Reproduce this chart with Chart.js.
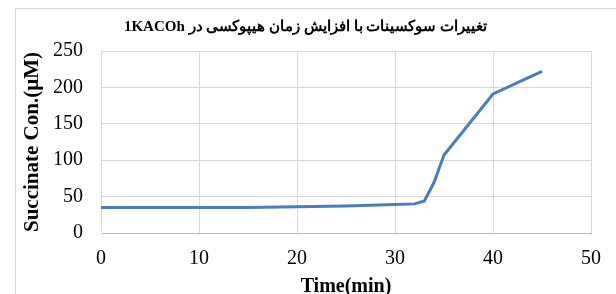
<!DOCTYPE html>
<html>
<head>
<meta charset="utf-8">
<script src="https://cdn.jsdelivr.net/npm/chart.js@4"></script>
<style>
    html, body { margin: 0; padding: 0; background: #fff; overflow: hidden; }
    #frame { position: absolute; left: 15px; top: 8px; width: 700px; height: 400px; border: 1px solid #d9d9d9; }
    #wrap { position: absolute; left: 0; top: 0; width: 616px; height: 294px; }
</style>
</head>
<body>
<div id="frame"></div>
<div id="wrap"><canvas id="succinateChart" width="616" height="294"></canvas></div>
<script>
// values
const timeMin = [0, 5, 10, 15, 20, 25, 30, 32, 33, 34, 35, 40, 45];
const succinate = [35, 35, 35, 35, 36, 37, 39, 40, 44, 70, 107, 191, 222];
const xTicks = [0, 10, 20, 30, 40, 50];
const yTicks = [0, 50, 100, 150, 200, 250];

const chartTitle = 'تغییرات سوکسینات با افزایش زمان هیپوکسی در 1KACOh';
const serif = '"Liberation Serif", "Times New Roman", serif';

function initializeChart() {
    const ctx = document.getElementById('succinateChart').getContext('2d');
    const points = timeMin.map((t, i) => ({ x: t, y: succinate[i] }));

    new Chart(ctx, {
        type: 'line',
        data: {
            datasets: [{
                data: points,
                borderColor: '#4a7ebb',
                borderWidth: 3,
                pointRadius: 0,
                fill: false,
                tension: 0
            }]
        },
        options: {
            responsive: false,
            animation: false,
            layout: { padding: { left: 20, right: 25, top: 0, bottom: 0 } },
            plugins: {
                legend: { display: false },
                tooltip: { enabled: false },
                title: {
                    display: true,
                    // embed right-to-left so the Latin part sits at the left end
                    text: '\u202B' + chartTitle + '\u202C',
                    color: '#000',
                    font: { family: serif, size: 15, weight: 'bold', lineHeight: 1.2 },
                    padding: { top: 18, bottom: 15 }
                }
            },
            scales: {
                x: {
                    type: 'linear',
                    min: 0,
                    max: 50,
                    afterBuildTicks: axis => { axis.ticks = xTicks.map(v => ({ value: v })); },
                    afterFit: axis => { axis.height = 61; },
                    grid: { color: '#d9d9d9', lineWidth: 1, drawTicks: false },
                    border: { color: '#bfbfbf' },
                    ticks: {
                        color: '#000',
                        padding: 14,
                        maxRotation: 0,
                        font: { family: serif, size: 20 }
                    },
                    title: {
                        display: true,
                        text: 'Time(min)',
                        color: '#000',
                        padding: { top: 0, bottom: 0 },
                        font: { family: serif, size: 20, weight: 'bold', lineHeight: 0.7 }
                    }
                },
                y: {
                    min: 0,
                    max: 250,
                    afterBuildTicks: axis => { axis.ticks = yTicks.map(v => ({ value: v })); },
                    afterFit: axis => { axis.width = 81; },
                    grid: { color: '#d9d9d9', lineWidth: 1, drawTicks: false },
                    border: { color: '#d9d9d9' },
                    ticks: {
                        color: '#000',
                        padding: 18,
                        font: { family: serif, size: 20 }
                    },
                    title: {
                        display: true,
                        text: 'Succinate Con.(µM)',
                        color: '#000',
                        padding: { top: 0, bottom: 0 },
                        font: { family: serif, size: 21, weight: 'bold' }
                    }
                }
            }
        }
    });
}

document.addEventListener('DOMContentLoaded', initializeChart);
</script>
</body>
</html>
